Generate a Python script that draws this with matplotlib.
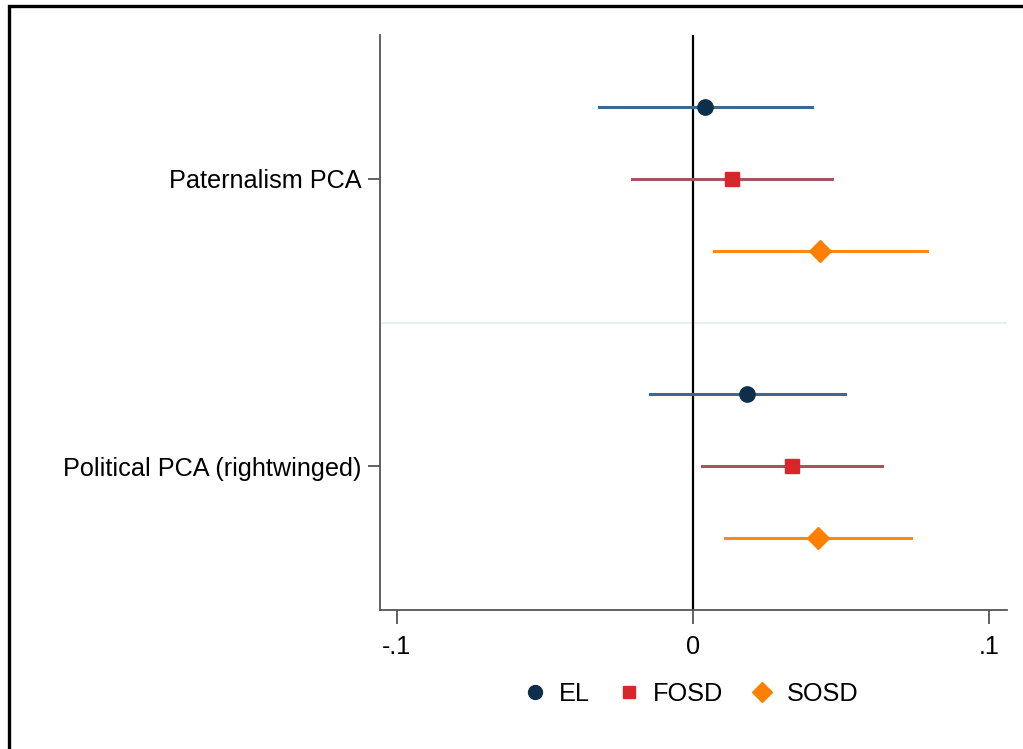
import matplotlib.pyplot as plt
from matplotlib.lines import Line2D
from matplotlib.patches import Rectangle

plt.rcParams['font.family'] = ['Liberation Sans', 'DejaVu Sans']

categories = ['Paternalism PCA', 'Political PCA (rightwinged)']
series = ['EL', 'FOSD', 'SOSD']

# point estimates and confidence bounds, per series, per category
est = {'EL': [0.004, 0.0182], 'FOSD': [0.0132, 0.0334], 'SOSD': [0.0429, 0.0422]}
lo = {'EL': [-0.0318, -0.0145], 'FOSD': [-0.0206, 0.003], 'SOSD': [0.0071, 0.0108]}
hi = {'EL': [0.0402, 0.0514], 'FOSD': [0.047, 0.0639], 'SOSD': [0.079, 0.0736]}

xticks = [-0.1, 0, 0.1]
xticklabels = ['-.1', '0', '.1']

marker_col = {'EL': '#0d2f4a', 'FOSD': '#d9262b', 'SOSD': '#ff8000'}
line_col = {'EL': '#3d6890', 'FOSD': '#a3545f', 'SOSD': '#ff8a10'}
shapes = {'EL': 'o', 'FOSD': 's', 'SOSD': 'D'}
sizes = {'EL': 11, 'FOSD': 10, 'SOSD': 11}
offsets = {'EL': -0.25, 'FOSD': 0.0, 'SOSD': 0.25}

fs = 18.2

fig = plt.figure(figsize=(10.23, 7.49), dpi=100)
ax = fig.add_axes([380 / 1023, 1 - 610 / 749, 627 / 1023, 575 / 749])

for s in series:
    for i in range(len(categories)):
        y = i + 1 + offsets[s]
        ax.plot([lo[s][i], hi[s][i]], [y, y], color=line_col[s], lw=2.2, zorder=2)
        ax.plot(est[s][i], y, marker=shapes[s], color=marker_col[s],
                markersize=sizes[s], linestyle='none', zorder=3)

ax.axvline(0, color='black', lw=1.6, zorder=1)
ax.axhline(1.5, color='#e8eff3', lw=1.5, zorder=0)

ax.set_xlim(-0.1057, 0.1061)
ax.set_ylim(2.5, 0.5)
ax.set_yticks([1, 2])
ax.set_yticklabels(categories, fontsize=fs)
ax.set_xticks(xticks)
ax.set_xticklabels(xticklabels, fontsize=fs)
ax.tick_params(axis='y', length=9, width=1.3, color='#555555', pad=4)
ax.tick_params(axis='x', length=10, width=1.3, color='#555555', pad=8)

for side in ['top', 'right']:
    ax.spines[side].set_visible(False)
for side in ['left', 'bottom']:
    ax.spines[side].set_color('#555555')
    ax.spines[side].set_linewidth(1.3)

handles = [Line2D([], [], marker=shapes[s], color=marker_col[s], linestyle='none',
                  markersize=sizes[s] - 1) for s in series]
fig.legend(handles, series, loc='center', bbox_to_anchor=(690 / 1023, 1 - 694 / 749),
           ncol=3, frameon=False, fontsize=fs, handlelength=1.0,
           handletextpad=0.45, columnspacing=1.05)

# outer frame (top and left edges visible)
fig.patches.append(Rectangle((9 / 1023, -0.1), 1.2, 1 - 6 / 749 + 0.1,
                             transform=fig.transFigure, fill=False,
                             edgecolor='black', linewidth=2.4))

fig.savefig('out.png', dpi=100)
